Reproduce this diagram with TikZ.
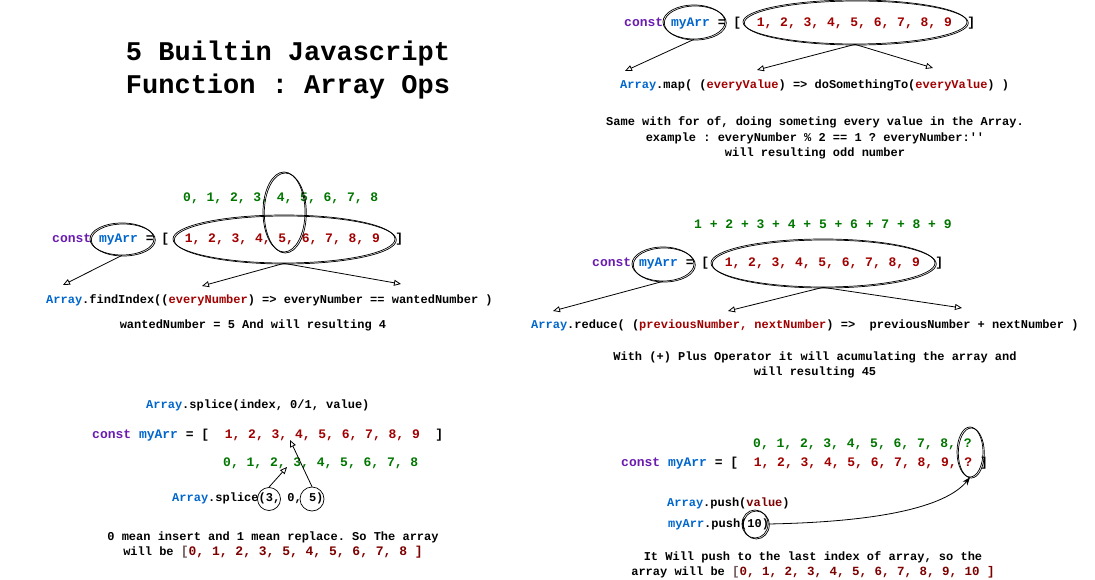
\documentclass[tikz,border=0pt]{standalone}
\usepackage{fontspec}
\setmonofont{Liberation Mono}
\usepackage{tikz}
\usetikzlibrary{shapes.geometric,arrows.meta,calc}

\definecolor{kwpurple}{RGB}{106,27,176}
\definecolor{objblue}{RGB}{0,102,204}
\definecolor{valred}{RGB}{160,0,0}
\definecolor{idxgreen}{RGB}{0,118,0}
\definecolor{resred}{RGB}{125,0,0}
\definecolor{brgray}{RGB}{110,85,85}

\newcommand{\jsKw}[1]{\textcolor{kwpurple}{#1}}
\newcommand{\jsObj}[1]{\textcolor{objblue}{#1}}
\newcommand{\jsVal}[1]{\textcolor{valred}{#1}}
\newcommand{\jsIdx}[1]{\textcolor{idxgreen}{#1}}
\newcommand{\jsRes}[1]{\textcolor{resred}{#1}}

\tikzset{
  code/.style={inner sep=0pt, anchor=west, font=\ttfamily\bfseries\fontsize{12}{15.5}\selectfont},
  arrline/.style={code, font=\ttfamily\bfseries\fontsize{13}{16}\selectfont},
  note/.style={inner sep=0pt, align=center, font=\ttfamily\bfseries\fontsize{12}{15.5}\selectfont},
  oval/.style={ellipse, draw, line width=0.7pt, inner sep=0pt,
    postaction={draw, transform canvas={shift={(1.3pt,-1pt)}}}},
  ring/.style={circle, draw, line width=0.7pt, inner sep=0pt},
  link/.style={->, line width=0.8pt}
}

\begin{document}
\frenchspacing
\begin{tikzpicture}[x=1pt, y=-1pt, >={Triangle[open,length=7pt,width=6pt]}]
  \useasboundingbox (0,0) rectangle (1095,580);

  % Title
  \node[font=\ttfamily\bfseries\fontsize{27}{33}\selectfont, align=center, inner sep=0pt] (title) at (288,70) {5 Builtin Javascript\\Function : Array Ops};

  % Array.map
  \node[arrline] (mapRow) at (624,23) {\jsKw{const} \jsObj{myArr} = [\ \ \jsVal{1, 2, 3, 4, 5, 6, 7, 8, 9}\ \ ]};
  \node[oval, minimum width=62, minimum height=34] (mapNameOval) at (694,22) {};
  \node[oval, minimum width=224, minimum height=44] (mapValsOval) at (855,22) {};
  \node[code] (mapCall) at (620,85) {\jsObj{Array}.map( (\jsVal{everyValue}) => doSomethingTo(\jsVal{everyValue}) )};
  \coordinate (mapTipA) at (625,71);
  \coordinate (mapTipB) at (757,70);
  \coordinate (mapTipC) at (933,68);
  \draw[link] (mapNameOval.south) -- (mapTipA);
  \draw[link] (mapValsOval.south) -- (mapTipB);
  \draw[link] (mapValsOval.south) -- (mapTipC);
  \node[note] (mapNote) at (815,138) {Same with for of, doing someting every value in the Array.\\example : everyNumber \% 2 == 1 ? everyNumber:\textquotesingle\textquotesingle\\will resulting odd number};

  % Array.findIndex
  \node[arrline] (fiIdx) at (183,198) {\jsIdx{0, 1, 2, 3, 4, 5, 6, 7, 8}};
  \node[arrline] (fiRow) at (52,239) {\jsKw{const} \jsObj{myArr} = [\ \ \jsVal{1, 2, 3, 4, 5, 6, 7, 8, 9}\ \ ]};
  \node[oval, minimum width=64, minimum height=32] (fiNameOval) at (122,239) {};
  \node[oval, minimum width=222, minimum height=48] (fiValsOval) at (284,239) {};
  \node[oval, minimum width=42, minimum height=80] (fiPickOval) at (284,212) {};
  \node[code] (fiCall) at (46,300) {\jsObj{Array}.findIndex((\jsVal{everyNumber}) => everyNumber == wantedNumber )};
  \coordinate (fiTipA) at (63,285);
  \coordinate (fiTipB) at (202,286);
  \coordinate (fiTipC) at (401,284);
  \draw[link] (fiNameOval.south) -- (fiTipA);
  \draw[link] (fiValsOval.south) -- (fiTipB);
  \draw[link] (fiValsOval.south) -- (fiTipC);
  \node[note] (fiNote) at (253,325) {wantedNumber = 5 And will resulting 4};

  % Array.reduce
  \node[arrline] (rdSum) at (694,224) {\jsIdx{1 + 2 + 3 + 4 + 5 + 6 + 7 + 8 + 9}};
  \node[arrline] (rdRow) at (592,263) {\jsKw{const} \jsObj{myArr} = [\ \ \jsVal{1, 2, 3, 4, 5, 6, 7, 8, 9}\ \ ]};
  \node[oval, minimum width=62, minimum height=34] (rdNameOval) at (663,264) {};
  \node[oval, minimum width=224, minimum height=48] (rdValsOval) at (823,263) {};
  \node[code] (rdCall) at (531,325) {\jsObj{Array}.reduce( (\jsVal{previousNumber, nextNumber}) =>\ \ previousNumber + nextNumber )};
  \coordinate (rdTipA) at (553,311);
  \coordinate (rdTipB) at (728,311);
  \coordinate (rdTipC) at (962,308);
  \draw[link] (rdNameOval.south) -- (rdTipA);
  \draw[link] (rdValsOval.south) -- (rdTipB);
  \draw[link] (rdValsOval.south) -- (rdTipC);
  \node[note] (rdNote) at (815,365) {With (+) Plus Operator it will acumulating the array and\\will resulting 45};

  % Array.splice
  \node[code] (spSig) at (146,405) {\jsObj{Array}.splice(index, 0/1, value)};
  \node[arrline] (spRow) at (92,435) {\jsKw{const} \jsObj{myArr} = [\ \ \jsVal{1, 2, 3, 4, 5, 6, 7, 8, 9}\ \ ]};
  \node[arrline] (spIdx) at (223,463) {\jsIdx{0, 1, 2, 3, 4, 5, 6, 7, 8}};
  \node[code] (spCall) at (172,498) {\jsObj{Array}.splice(3, 0, 5)};
  \node[ring, minimum size=23] (spThree) at (269,499) {};
  \node[ring, minimum size=24] (spFive) at (312,499) {};
  \coordinate (spTipA) at (287,467);
  \coordinate (spTipB) at (290,440);
  \draw[link] (spThree.north) -- (spTipA);
  \draw[link] (spFive.north) -- (spTipB);
  \node[note] (spNote) at (273,545) {0 mean insert and 1 mean replace. So The array\\will be {\fontsize{13}{15.5}\selectfont\textcolor{brgray}{[}\jsRes{0, 1, 2, 3, 5, 4, 5, 6, 7, 8 ]}}};

  % Array.push
  \node[arrline] (puIdx) at (753,444) {\jsIdx{0, 1, 2, 3, 4, 5, 6, 7, 8, ?}};
  \node[arrline] (puRow) at (621,463) {\jsKw{const} \jsObj{myArr} = [\ \ \jsVal{1, 2, 3, 4, 5, 6, 7, 8, 9, ?} ]};
  \node[oval, minimum width=26, minimum height=50] (puQOval) at (970,452) {};
  \node[code] (puSig) at (667,503) {\jsObj{Array}.push(\jsRes{value})};
  \node[code] (puCall) at (668,524) {\jsObj{myArr}.push(10)};
  \node[oval, minimum width=26, minimum height=28] (puTen) at (755,524) {};
  \draw[line width=0.8pt, -{Stealth[length=8pt,width=6pt]}] (puTen.east) .. controls (875,522) and (945,508) .. (puQOval.south);
  \node[note] (puNote) at (813,565) {It Will push to the last index of array, so the\\array will be {\fontsize{12.5}{15.5}\selectfont\textcolor{brgray}{[}\jsRes{0, 1, 2, 3, 4, 5, 6, 7, 8, 9, 10 ]}}};
\end{tikzpicture}
\end{document}
